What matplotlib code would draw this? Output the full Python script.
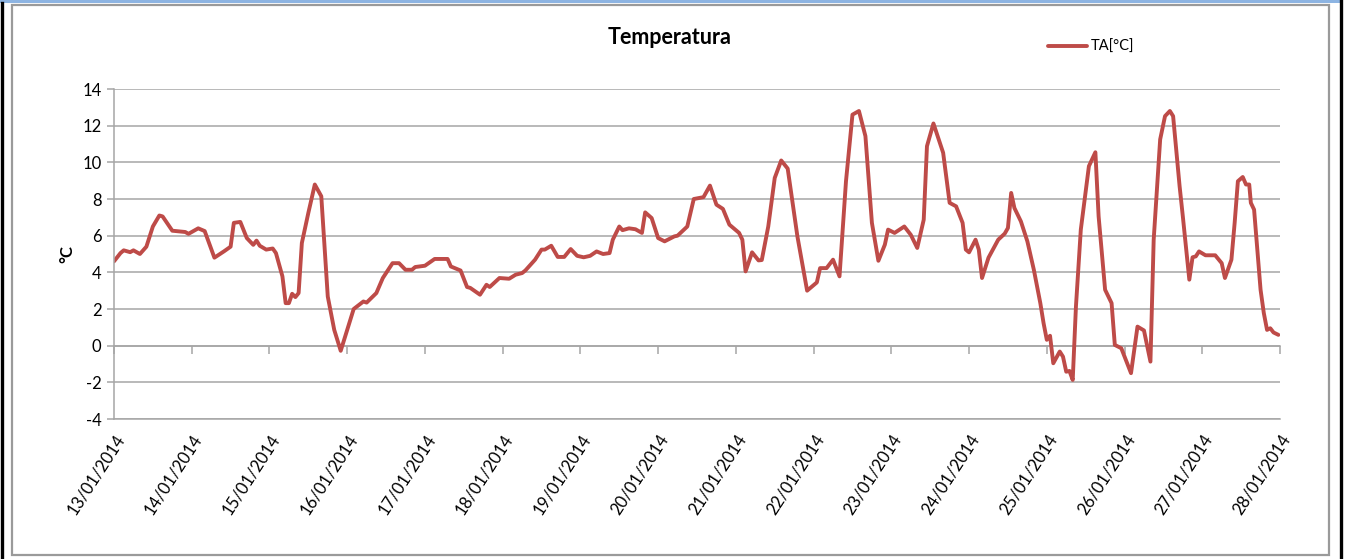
import numpy as np
import pandas as pd
import matplotlib
matplotlib.use("Agg")
import matplotlib.pyplot as plt
import matplotlib.dates as mdates
from matplotlib.patches import Rectangle
from matplotlib.lines import Line2D

plt.rcParams["font.family"] = ["Lato", "DejaVu Sans"]
plt.rcParams["axes.unicode_minus"] = False

# hours since 13/01/2014 00:00 and temperature
hours = [0, 2, 3, 5, 6, 8, 10, 12, 14, 15, 18, 22, 23, 26, 28, 31, 34, 36, 37, 39,
         41, 43, 44, 45, 47, 49, 50, 52, 53, 54, 55, 56, 57, 58, 60, 62, 64, 66, 68, 70,
         72, 74, 77, 78, 81, 83, 84, 86, 88, 90, 92, 93, 96, 99, 103, 104, 107, 109, 110, 113,
         115, 116, 119, 122, 124, 126, 127, 130, 132, 133, 135, 137, 139, 141, 143, 145, 147, 149, 151, 153,
         154, 156, 157, 159, 161, 163, 164, 166, 168, 170, 173, 174, 177, 179, 182, 184, 186, 188, 190, 193,
         194, 195, 197, 199, 200, 202, 204, 206, 208, 211, 214, 217, 218, 220, 222, 224, 226, 228, 230, 232,
         234, 236, 238, 239, 241, 244, 246, 248, 250, 251, 253, 256, 258, 260, 262, 263, 264, 266, 267, 268,
         270, 273, 275, 276, 277, 278, 280, 282, 284, 286, 287, 288, 289, 290, 292, 293, 294, 295, 296, 297,
         298.5, 301, 303, 304, 306, 308, 309, 311, 313, 314, 316, 318, 320, 321, 323, 324.5, 326, 327, 329, 330,
         332, 333, 334, 335, 337, 340, 342, 343, 345, 346, 347, 348.5, 349.5, 350.5, 351, 352, 354, 355, 356, 357,
         358, 359.5]
temp = [4.6, 5.05, 5.2, 5.1, 5.2, 5.0, 5.4, 6.5, 7.1, 7.05, 6.27, 6.2, 6.1, 6.4, 6.25, 4.8, 5.15, 5.4, 6.7, 6.75,
        5.87, 5.5, 5.73, 5.45, 5.24, 5.3, 5.05, 3.78, 2.32, 2.32, 2.83, 2.65, 2.87, 5.6, 7.24, 8.79, 8.15, 2.68, 0.86, -0.28,
        0.86, 2.0, 2.41, 2.35, 2.87, 3.69, 3.96, 4.5, 4.5, 4.14, 4.14, 4.29, 4.36, 4.73, 4.73, 4.32, 4.1, 3.2, 3.15, 2.78,
        3.32, 3.2, 3.69, 3.65, 3.87, 3.96, 4.1, 4.69, 5.24, 5.24, 5.45, 4.84, 4.84, 5.27, 4.9, 4.82, 4.9, 5.14, 5.0, 5.05,
        5.78, 6.5, 6.3, 6.4, 6.35, 6.15, 7.27, 6.96, 5.87, 5.69, 5.96, 6.0, 6.5, 8.0, 8.1, 8.73, 7.69, 7.46, 6.6, 6.15,
        5.78, 4.05, 5.09, 4.65, 4.67, 6.5, 9.15, 10.1, 9.66, 5.96, 3.0, 3.45, 4.23, 4.23, 4.69, 3.78, 8.97, 12.6, 12.8, 11.43,
        6.7, 4.63, 5.51, 6.33, 6.15, 6.5, 6.05, 5.33, 6.87, 10.88, 12.12, 10.52, 7.79, 7.6, 6.7, 5.24, 5.09, 5.78, 5.24, 3.69,
        4.8, 5.78, 6.11, 6.42, 8.33, 7.51, 6.78, 5.69, 4.14, 2.32, 1.23, 0.32, 0.54, -0.96, -0.32, -0.6, -1.42, -1.38, -1.87, 2.14,
        6.33, 9.79, 10.55, 7.05, 3.05, 2.32, 0.04, -0.14, -1.05, -1.5, 1.04, 0.83, -0.87, 5.78, 11.25, 12.52, 12.8, 12.52, 8.7, 7.05,
        3.6, 4.82, 4.87, 5.14, 4.93, 4.93, 4.5, 3.69, 4.69, 6.7, 8.97, 9.2, 8.79, 8.79, 7.79, 7.42, 3.05, 1.78, 0.86, 0.95,
        0.72, 0.59]

start = pd.Timestamp("2014-01-13")
end = pd.Timestamp("2014-01-28")
times = start + pd.to_timedelta(hours, unit="h")
day_ticks = pd.date_range(start, end, freq="D")
y_ticks = list(range(-4, 15, 2))

line_red = "#BE4B48"
grid_grey = "#A6A6A6"

fig = plt.figure(figsize=(13.48, 5.59), dpi=100)
ax = fig.add_axes([114 / 1348, 1 - 419 / 559, 1166 / 1348, 330 / 559])

ax.plot(times, temp, color=line_red, lw=2.8, solid_joinstyle="round",
        solid_capstyle="round", label="TA[°C]")

ax.set_xlim(start, end)
ax.set_ylim(-4, 14)
ax.set_yticks(y_ticks)
ax.grid(axis="y", color=grid_grey, lw=1.1)
ax.set_axisbelow(True)

ax.set_xticks(day_ticks)
ax.xaxis.set_major_formatter(mdates.DateFormatter("%d/%m/%Y"))
plt.setp(ax.get_xticklabels(), rotation=57, ha="right", rotation_mode="anchor")
ax.tick_params(axis="x", length=0, pad=9, labelsize=12)
ax.tick_params(axis="y", length=5, color=grid_grey, width=1.1, labelsize=12, pad=4)

for side in ["top", "right"]:
    ax.spines[side].set_visible(False)
for side in ["left", "bottom"]:
    ax.spines[side].set_color(grid_grey)
    ax.spines[side].set_linewidth(1.1)

# category axis crosses at zero: ticks drawn there, labels stay at the bottom
sec = ax.secondary_xaxis(4 / 18)
sec.set_xticks(day_ticks)
sec.tick_params(axis="x", length=6, color=grid_grey, width=1.1, labelbottom=False)
sec.spines["bottom"].set_color(grid_grey)
sec.spines["bottom"].set_linewidth(1.1)

ax.set_ylabel("°C", fontsize=12, fontweight="bold", labelpad=5)
fig.text(670 / 1348, 1 - 37 / 559, "Temperatura", ha="center", va="center",
         fontsize=15.5, fontweight="bold")

ax.legend(loc="center left", bbox_to_anchor=(1048 / 1348, 1 - 47 / 559),
          bbox_transform=fig.transFigure, frameon=False, fontsize=10.5,
          handlelength=2.7, handletextpad=0.2, borderpad=0, borderaxespad=0)

# outer frame like the pasted Excel chart
fig.patches.append(Rectangle((12.5 / 1348, 1 - 554.5 / 559), 1316.5 / 1348, 549.5 / 559,
                             transform=fig.transFigure, fill=False, ec="#9A9A9A", lw=1.6))
fig.patches.append(Rectangle((0, 1 - 3 / 559), 1342 / 1348, 3 / 559,
                             transform=fig.transFigure, fc="#8DB4E2", ec="none"))
fig.lines.append(Line2D([1.5 / 1348, 1.5 / 1348], [0, 1 - 3 / 559], transform=fig.transFigure,
                        color="black", lw=2.4))
fig.lines.append(Line2D([1341 / 1348, 1341 / 1348], [0, 1], transform=fig.transFigure,
                        color="black", lw=2.4))

fig.savefig("out.png", dpi=100, facecolor="white")
